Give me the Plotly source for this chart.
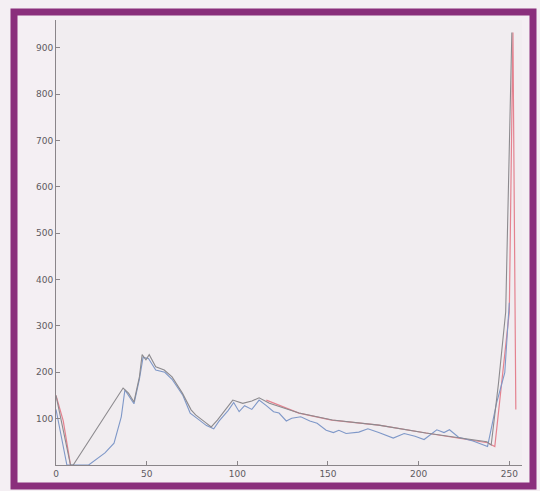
import plotly.graph_objects as go

# Intensity histogram traces (grey level 0-255 on x, pixel count on y)
gray_x = [0, 8, 9.5, 37, 40, 43, 46, 47.5, 49.6, 51.4, 55, 59.7, 64, 69.7, 74.5, 77, 82, 85.6,
          89, 94, 97.5, 103, 108, 112, 117.7, 134, 152.5, 178, 204, 237.6, 240, 244, 248, 251.4]
gray_y = [150, 0, 0, 166, 155, 136, 190, 238, 227, 238, 212, 205, 190, 155, 119, 108, 93, 82,
          97, 123, 140, 133, 138, 145, 133, 112, 97, 86, 69, 50, 43, 175, 330, 933]

blue_x = [0, 6, 18, 27, 32, 36, 38, 40, 43, 46, 48, 51, 55, 60, 64, 70, 74, 78, 83, 87, 90, 95,
          98, 101, 104, 108, 112, 116, 120, 123, 127, 130, 135, 140, 144, 149, 153, 156, 160,
          167, 172, 178, 183, 186, 192, 198, 203, 210, 214, 217, 222, 230, 238, 243, 247.5,
          249, 250]
blue_y = [120, 0, 0, 26, 47, 104, 162, 150, 132, 185, 232, 230, 205, 200, 185, 150, 112, 100,
          85, 78, 95, 118, 135, 115, 128, 120, 140, 128, 115, 112, 95, 101, 104, 95, 90, 75,
          70, 75, 68, 71, 78, 70, 62, 58, 68, 62, 55, 76, 70, 76, 60, 52, 40, 134, 199, 292,
          350]

# fitted curve: a short piece at the dark end, then the tail from 116 up to the spike
red_x = [0, 4, 8, None, 116, 134, 152, 178, 204, 238, 242, 246, 250, 252, 253.6]
red_y = [150, 95, 0, None, 140, 112, 97, 86, 69, 48, 40, 180, 330, 933, 120]

x_ticks = [0, 50, 100, 150, 200, 250]
y_ticks = [100, 200, 300, 400, 500, 600, 700, 800, 900]

fig = go.Figure()
fig.add_trace(go.Scatter(x=red_x, y=red_y, mode="lines", connectgaps=False,
                         line=dict(color="#e4828f", width=1.2)))
fig.add_trace(go.Scatter(x=blue_x, y=blue_y, mode="lines",
                         line=dict(color="#7f98c8", width=1.1)))
fig.add_trace(go.Scatter(x=gray_x, y=gray_y, mode="lines",
                         line=dict(color="#8c8a8e", width=1.1)))

axis_common = dict(showgrid=False, zeroline=False, showline=True,
                   linecolor="#8a8589", linewidth=1, ticks="inside", ticklen=4,
                   tickcolor="#8a8589",
                   tickfont=dict(family="DejaVu Sans", size=9, color="#5e5a60"))

fig.update_layout(
    width=540, height=491,
    margin=dict(l=56, r=18, t=20, b=26),
    paper_bgcolor="#f4eff3",
    plot_bgcolor="#f1edf0",
    showlegend=False,
    xaxis=dict(range=[0, 257], tickvals=x_ticks, **axis_common),
    yaxis=dict(range=[0, 960], tickvals=y_ticks, **axis_common),
    shapes=[
        # purple mount frame around the whole figure
        dict(type="rect", xref="paper", yref="paper",
             x0=-42 / 466, x1=(533 - 56) / 466,
             y0=-(486 - 465) / 445, y1=(465 - 12) / 445,
             line=dict(color="#8a2f7c", width=7), fillcolor="rgba(0,0,0,0)",
             layer="above"),
    ],
)

fig.write_html("out.html")
